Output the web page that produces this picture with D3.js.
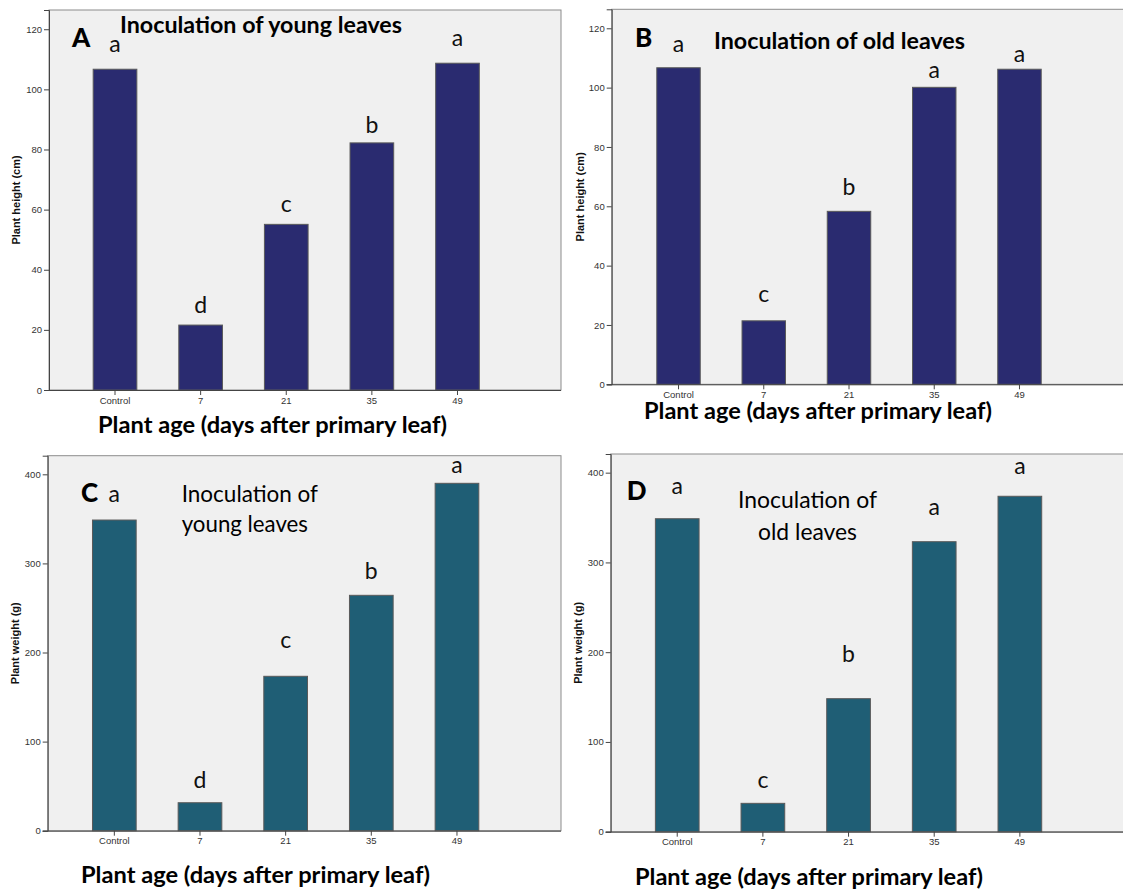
<!DOCTYPE html>
<html>
<head>
<meta charset="utf-8">
<script src="https://cdn.jsdelivr.net/npm/d3@7"></script>
<style>
  html, body { margin: 0; padding: 0; background: #ffffff; }
  svg { display: block; }
</style>
</head>
<body>
<svg id="chart" width="1123" height="895"></svg>
<script>
// ---------------- DATA ----------------
const categories = ["Control", "7", "21", "35", "49"];

const heightYoung = [106.7, 21.6, 55.1, 82.2, 108.7];
const heightOld   = [106.7, 21.4, 58.3, 100.1, 106.2];
const weightYoung = [348.7, 31.4, 173.3, 264.2, 389.9];
const weightOld   = [348.7, 31.6, 148.2, 323.1, 373.7];

const lettersHeightYoung = ["a", "d", "c", "b", "a"];
const lettersHeightOld   = ["a", "c", "b", "a", "a"];
const lettersWeightYoung = ["a", "d", "c", "b", "a"];
const lettersWeightOld   = ["a", "c", "b", "a", "a"];

// value (in axis units) at which each significance letter sits
const letterLevelHeightYoung = [112.4, 25.6, 59.2, 85.5, 114.4];
const letterLevelHeightOld   = [112.0, 27.7, 63.8, 103.2, 108.6];
const letterLevelWeightYoung = [369.2, 47.9, 204.7, 282.2, 401.1];
const letterLevelWeightOld   = [375.9, 48.4, 189.4, 352.9, 398.2];

const heightTicks = [0, 20, 40, 60, 80, 100, 120];
const weightTicks = [0, 100, 200, 300, 400];

const xAxisTitle = "Plant age (days after primary leaf)";
const yTitleHeight = "Plant height (cm)";
const yTitleWeight = "Plant weight (g)";

// ---------------- LAYOUT ----------------
const svg = d3.select("#chart");
const NAVY = "#2a2b70";
const TEAL = "#1f5e75";

const panels = [
  { values: heightYoung, letters: lettersHeightYoung, levels: letterLevelHeightYoung,
    ticks: heightTicks, yMax: 126.4, yTitle: yTitleHeight, color: NAVY,
    plot: { x0: 49, x1: 561, y0: 10, y1: 390 }, band: [72.2, 500.3],
    yTitleX: 16, xTitle: { x0: 98, x1: 447, y: 433 },
    label: { t: "A", x: 72, y: 47 },
    titleLines: [{ t: "Inoculation of young leaves", x0: 120, x1: 402, y: 33, bold: true }] },
  { values: heightOld, letters: lettersHeightOld, levels: letterLevelHeightOld,
    ticks: heightTicks, yMax: 126.4, yTitle: yTitleHeight, color: NAVY,
    plot: { x0: 611.7, x1: 1124, y0: 9.3, y1: 384.3 }, band: [635.9, 1062.1],
    yTitleX: 580, xTitle: { x0: 644, x1: 992, y: 419 },
    label: { t: "B", x: 635, y: 47 },
    titleLines: [{ t: "Inoculation of old leaves", x0: 714, x1: 965, y: 49, bold: true }] },
  { values: weightYoung, letters: lettersWeightYoung, levels: letterLevelWeightYoung,
    ticks: weightTicks, yMax: 420.9, yTitle: yTitleWeight, color: TEAL,
    plot: { x0: 47.7, x1: 561, y0: 455.7, y1: 830.7 }, band: [71.5, 499.8],
    yTitleX: 15, xTitle: { x0: 81, x1: 430, y: 882.5 },
    label: { t: "C", x: 81, y: 501.7 },
    titleLines: [{ t: "Inoculation of", x0: 181.7, x1: 318, y: 501.7, bold: false },
                 { t: "young leaves", x0: 181.7, x1: 308, y: 531.7, bold: false }] },
  { values: weightOld, letters: lettersWeightOld, levels: letterLevelWeightOld,
    ticks: weightTicks, yMax: 420.8, yTitle: yTitleWeight, color: TEAL,
    plot: { x0: 610.7, x1: 1124, y0: 454, y1: 831.7 }, band: [634.4, 1062.7],
    yTitleX: 578, xTitle: { x0: 635, x1: 983, y: 885 },
    label: { t: "D", x: 626.7, y: 500 },
    titleLines: [{ t: "Inoculation of", x0: 738, x1: 877, y: 508.3, bold: false },
                 { t: "old leaves", x0: 758, x1: 857, y: 540, bold: false }] }
];

const CAL = "Lato, 'Open Sans', sans-serif";
const ARIAL = "'Liberation Sans', Arial, sans-serif";

panels.forEach(p => {
  const g = svg.append("g");
  const { x0, x1, y0, y1 } = p.plot;

  const x = d3.scaleBand().domain(categories).range(p.band)
    .paddingInner(0.49).paddingOuter(0.245);
  const y = d3.scaleLinear().domain([0, p.yMax]).range([y1, y0]);

  // plot background and frame
  g.append("rect").attr("x", x0).attr("y", y0)
    .attr("width", x1 - x0).attr("height", y1 - y0)
    .attr("fill", "#f0f0f0").attr("stroke", "#8c8c8c").attr("stroke-width", 1);

  // bars
  g.selectAll("rect.bar").data(p.values).enter().append("rect")
    .attr("class", "bar")
    .attr("x", (d, i) => x(categories[i]))
    .attr("width", x.bandwidth())
    .attr("y", d => y(d))
    .attr("height", d => y(0) - y(d))
    .attr("fill", p.color)
    .attr("stroke", "#5a5a5a").attr("stroke-width", 1);

  // y axis
  const yAxis = d3.axisLeft(y).tickValues(p.ticks).tickSize(5).tickPadding(2)
    .tickFormat(d3.format("d"));
  const ya = g.append("g").attr("transform", `translate(${x0},0)`).call(yAxis);
  ya.select(".domain").attr("stroke", "#444");
  ya.selectAll(".tick line").attr("stroke", "#444");
  ya.selectAll(".tick text").attr("font-family", ARIAL).attr("font-size", "9.5px")
    .attr("fill", "#333");

  // x axis
  const xAxis = d3.axisBottom(x).tickSize(5).tickPadding(2).tickSizeOuter(0);
  const xa = g.append("g").attr("transform", `translate(0,${y1})`).call(xAxis);
  xa.select(".domain").attr("stroke", "#444").attr("d", `M${x0 - 5},0.5H${x1}`);
  xa.selectAll(".tick line").attr("stroke", "#444");
  xa.selectAll(".tick text").attr("font-family", ARIAL).attr("font-size", "9.5px")
    .attr("fill", "#333");

  // y axis title
  g.append("text")
    .attr("transform", `translate(${p.yTitleX + 4},${(y0 + y1) / 2}) rotate(-90)`)
    .attr("text-anchor", "middle")
    .attr("font-family", ARIAL).attr("font-weight", "bold").attr("font-size", "11px")
    .attr("fill", "#111")
    .text(p.yTitle);

  // x axis title
  g.append("text")
    .attr("x", p.xTitle.x0).attr("y", p.xTitle.y)
    .attr("textLength", p.xTitle.x1 - p.xTitle.x0).attr("lengthAdjust", "spacingAndGlyphs")
    .attr("font-family", CAL).attr("font-weight", "bold").attr("font-size", "23px")
    .attr("fill", "#000")
    .text(xAxisTitle);

  // panel letter
  g.append("text").attr("x", p.label.x).attr("y", p.label.y)
    .attr("font-family", CAL).attr("font-weight", "900").attr("font-size", "26px")
    .attr("fill", "#000").text(p.label.t);

  // panel titles
  p.titleLines.forEach(t => {
    g.append("text").attr("x", t.x0).attr("y", t.y)
      .attr("textLength", t.x1 - t.x0).attr("lengthAdjust", "spacingAndGlyphs")
      .attr("font-family", CAL).attr("font-weight", t.bold ? "bold" : "normal")
      .attr("font-size", "23px").attr("fill", "#000")
      .text(t.t);
  });

  // significance letters
  g.selectAll("text.sig").data(p.letters).enter().append("text")
    .attr("class", "sig")
    .attr("x", (d, i) => x(categories[i]) + x.bandwidth() / 2)
    .attr("y", (d, i) => y(p.levels[i]))
    .attr("text-anchor", "middle")
    .attr("font-family", CAL).attr("font-size", "23px").attr("fill", "#111")
    .text(d => d);
});
</script>
</body>
</html>
